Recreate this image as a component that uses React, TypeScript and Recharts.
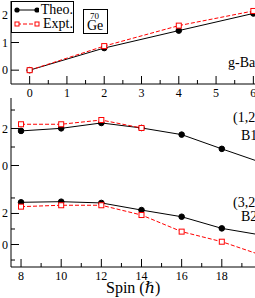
import { LineChart, Line, XAxis, YAxis, Legend } from "recharts";

// g-band (top panel)
const gSpin = [0, 2, 4, 6];
const gTheo = [0, 0.8, 1.43, 2.05];
const gExpt = [0, 0.87, 1.61, 2.14];

// B1 / B2 bands
const bandSpin = [8, 10, 12, 14, 16, 18, 20];
const b1Theo = [1.87, 2.01, 2.3, 2.03, 1.67, 0.9, 0.15];
const b1Expt = [2.23, 2.23, 2.46, 2.03, null, null, null];
const b2Theo = [2.72, 2.76, 2.68, 2.22, 1.79, 1.04, 0.6];
const b2Expt = [2.44, 2.53, 2.53, 1.9, 0.83, 0.18, -0.7];

// ticks
const gMajorX = [0, 1, 2, 3, 4, 5, 6];
const gMinorX = [0.5, 1.5, 2.5, 3.5, 4.5, 5.5];
const gMajorY = [0, 1, 2];
const bandMajorX = [8, 10, 12, 14, 16, 18, 20];
const bandMinorX = [9, 11, 13, 15, 17, 19];
const bandMajorY = [0, 2];
const bandMinorY = [-1, 1, 3];
const legendOrder = ["Theo.", "Expt."];

const FONT = "'Liberation Serif', 'DejaVu Serif', serif";
const RED = "#ff0000";

const gData = gSpin.map((s, i) => ({ spin: s, theo: gTheo[i], expt: gExpt[i] }));
const b1Data = bandSpin.map((s, i) => ({ spin: s, theo: b1Theo[i], expt: b1Expt[i] }));
const b2Data = bandSpin.map((s, i) => ({ spin: s, theo: b2Theo[i], expt: b2Expt[i] }));

// inward ticks; dir -1 = bottom axis (ticks go up), 1 = top axis (ticks go down)
const makeXTick = (majors: number[], labels: boolean, dir: number) => (p: any) => {
  const v = p.payload.value;
  const major = majors.includes(v);
  const len = major ? 8 : 4;
  return (
    <g key={`xt-${v}`}>
      <line x1={p.x} x2={p.x} y1={p.y} y2={p.y + dir * len} stroke="#000" />
      {labels && major && (
        <text x={p.x} y={p.y + 13} textAnchor="middle" fontFamily={FONT} fontSize={12} fill="#000">
          {v}
        </text>
      )}
    </g>
  );
};

const makeYTick = (majors: number[]) => (p: any) => {
  const v = p.payload.value;
  const major = majors.includes(v);
  const len = major ? 8 : 4;
  return (
    <g key={`yt-${v}`}>
      <line x1={p.x} x2={p.x + len} y1={p.y} y2={p.y} stroke="#000" />
      {major && (
        <text x={p.x - 3} y={p.y + 4} textAnchor="end" fontFamily={FONT} fontSize={12} fill="#000">
          {v}
        </text>
      )}
    </g>
  );
};

const Square = (p: any) => {
  if (p.cx == null || p.cy == null || p.value == null) return <g key={p.key} />;
  return (
    <rect key={p.key} x={p.cx - 2.5} y={p.cy - 2.5} width={5} height={5} fill="#fff" stroke={RED} />
  );
};

const LegendBox = (props: any) => {
  const items = [...(props.payload || [])].sort(
    (a: any, b: any) => legendOrder.indexOf(a.value) - legendOrder.indexOf(b.value)
  );
  return (
    <div
      style={{
        width: 63,
        height: 32,
        border: "1px solid #000",
        background: "#fff",
        fontFamily: FONT,
        fontSize: 14,
        lineHeight: "14px",
        boxSizing: "border-box",
        paddingTop: 1,
      }}
    >
      {items.map((e: any) => {
        const isExpt = e.value === "Expt.";
        return (
          <div key={e.value} style={{ display: "flex", alignItems: "center", height: 14 }}>
            <svg width={28} height={14} style={{ marginLeft: 1 }}>
              <line x1={4} x2={24} y1={7} y2={7} stroke={e.color} strokeDasharray={isExpt ? "4 2" : undefined} />
              {isExpt ? (
                <>
                  <rect x={2} y={5} width={4} height={4} fill="#fff" stroke={RED} />
                  <rect x={22} y={5} width={4} height={4} fill="#fff" stroke={RED} />
                </>
              ) : (
                <>
                  <circle cx={4} cy={7} r={2.6} fill="#000" />
                  <circle cx={24} cy={7} r={2.6} fill="#000" />
                </>
              )}
            </svg>
            <span style={{ marginLeft: 2 }}>{e.value}</span>
          </div>
        );
      })}
    </div>
  );
};

const txt = (style: any) => ({
  position: "absolute" as const,
  fontFamily: FONT,
  fontSize: 14,
  lineHeight: "14px",
  whiteSpace: "nowrap" as const,
  color: "#000",
  ...style,
});

export default function App() {
  const W = 290;
  const M = { left: 0, right: 18 };
  return (
    <div style={{ position: "fixed", left: 0, top: 0, width: 255, height: 298, overflow: "hidden", background: "#fff" }}>
      {/* g-band */}
      <div style={{ position: "absolute", left: 0, top: 0 }}>
        <LineChart width={W} height={100} data={gData} margin={{ top: 1, bottom: 0, ...M }}>
          <XAxis
            dataKey="spin"
            type="number"
            domain={[-0.5, 6.5]}
            ticks={[...gMajorX, ...gMinorX]}
            interval={0}
            height={16}
            tickSize={0}
            tickMargin={0}
            tickLine={false}
            axisLine={{ stroke: "#000" }}
            tick={makeXTick(gMajorX, true, -1)}
          />
          <XAxis
            xAxisId="top"
            orientation="top"
            dataKey="spin"
            type="number"
            domain={[-0.5, 6.5]}
            ticks={[...gMajorX, ...gMinorX]}
            interval={0}
            height={0}
            tickSize={0}
            tickMargin={0}
            tickLine={false}
            axisLine={{ stroke: "#000" }}
            tick={makeXTick(gMajorX, false, 1)}
          />
          <YAxis
            type="number"
            domain={[-0.5, 2.5]}
            ticks={gMajorY}
            interval={0}
            width={11}
            tickSize={0}
            tickMargin={0}
            tickLine={false}
            axisLine={{ stroke: "#000" }}
            tick={makeYTick(gMajorY)}
          />
          <Legend
            layout="vertical"
            align="center"
            verticalAlign="middle"
            content={LegendBox}
            wrapperStyle={{ left: 11, top: 1, width: 63, height: 32 }}
          />
          <Line dataKey="theo" name="Theo." stroke="#000" dot={{ r: 2.8, fill: "#000", stroke: "#000" }} isAnimationActive={false} />
          <Line dataKey="expt" name="Expt." stroke={RED} strokeDasharray="4 2" dot={Square} isAnimationActive={false} />
        </LineChart>
      </div>

      {/* B1 */}
      <div style={{ position: "absolute", left: 0, top: 96 }}>
        <LineChart width={W} height={90} data={b1Data} margin={{ top: 2, bottom: 2, ...M }}>
          <XAxis
            dataKey="spin"
            type="number"
            domain={[7.5, 20.5]}
            ticks={[...bandMajorX, ...bandMinorX]}
            interval={0}
            height={0}
            tickSize={0}
            tickMargin={0}
            tickLine={false}
            axisLine={{ stroke: "#000" }}
            tick={makeXTick(bandMajorX, false, -1)}
          />
          <XAxis
            xAxisId="top"
            orientation="top"
            dataKey="spin"
            type="number"
            domain={[7.5, 20.5]}
            ticks={[...bandMajorX, ...bandMinorX]}
            interval={0}
            height={0}
            tickSize={0}
            tickMargin={0}
            tickLine={false}
            axisLine={{ stroke: "#000" }}
            tick={makeXTick(bandMajorX, false, 1)}
          />
          <YAxis
            type="number"
            domain={[-1, 3.65]}
            ticks={[...bandMajorY, 1, 3]}
            interval={0}
            width={11}
            tickSize={0}
            tickMargin={0}
            tickLine={false}
            axisLine={{ stroke: "#000" }}
            tick={makeYTick(bandMajorY)}
          />
          <Line dataKey="theo" name="Theo." stroke="#000" dot={{ r: 2.8, fill: "#000", stroke: "#000" }} isAnimationActive={false} />
          <Line dataKey="expt" name="Expt." stroke={RED} strokeDasharray="4 2" dot={Square} isAnimationActive={false} />
        </LineChart>
      </div>

      {/* B2 */}
      <div style={{ position: "absolute", left: 0, top: 182 }}>
        <LineChart width={W} height={116} data={b2Data} margin={{ top: 2, bottom: 0, ...M }}>
          <XAxis
            dataKey="spin"
            type="number"
            domain={[7.5, 20.5]}
            ticks={[...bandMajorX, ...bandMinorX]}
            interval={0}
            height={31}
            tickSize={0}
            tickMargin={0}
            tickLine={false}
            axisLine={{ stroke: "#000" }}
            tick={makeXTick(bandMajorX, true, -1)}
          />
          <XAxis
            xAxisId="top"
            orientation="top"
            dataKey="spin"
            type="number"
            domain={[7.5, 20.5]}
            ticks={[...bandMajorX, ...bandMinorX]}
            interval={0}
            height={0}
            tickSize={0}
            tickMargin={0}
            tickLine={false}
            axisLine={{ stroke: "#000" }}
            tick={makeXTick(bandMajorX, false, 1)}
          />
          <YAxis
            type="number"
            domain={[-1.45, 3.9]}
            ticks={[...bandMajorY, ...bandMinorY]}
            interval={0}
            width={11}
            tickSize={0}
            tickMargin={0}
            tickLine={false}
            axisLine={{ stroke: "#000" }}
            tick={makeYTick(bandMajorY)}
          />
          <Line dataKey="theo" name="Theo." stroke="#000" dot={{ r: 2.8, fill: "#000", stroke: "#000" }} isAnimationActive={false} />
          <Line dataKey="expt" name="Expt." stroke={RED} strokeDasharray="4 2" dot={Square} isAnimationActive={false} />
        </LineChart>
      </div>

      {/* annotations */}
      <div
        style={{
          position: "absolute",
          left: 83,
          top: 9,
          width: 25,
          height: 25,
          border: "1px solid #000",
          boxSizing: "border-box",
          background: "#fff",
          fontFamily: FONT,
        }}
      >
        <span style={{ position: "absolute", left: 6, top: 2, fontSize: 9, lineHeight: "9px" }}>70</span>
        <span style={{ position: "absolute", left: 3, top: 9, fontSize: 14, lineHeight: "14px" }}>Ge</span>
      </div>
      <div style={txt({ left: 228, top: 56 })}>g-Band</div>
      <div style={txt({ left: 233, top: 111 })}>(1,2n)</div>
      <div style={txt({ left: 241, top: 129 })}>B1</div>
      <div style={txt({ left: 233, top: 196 })}>(3,2n)</div>
      <div style={txt({ left: 241, top: 210 })}>B2</div>
      <div style={txt({ left: 106, top: 280, fontSize: 16, lineHeight: "16px" })}>Spin (ℏ)</div>
    </div>
  );
}
